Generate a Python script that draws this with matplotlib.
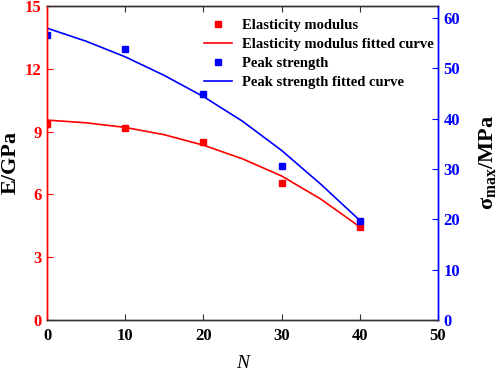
import matplotlib
matplotlib.use("Agg")
import matplotlib.pyplot as plt

plt.rcParams['font.family'] = ['Liberation Serif', 'DejaVu Serif']
plt.rcParams['mathtext.fontset'] = 'custom'
plt.rcParams['mathtext.rm'] = 'Liberation Serif'
plt.rcParams['mathtext.bf'] = 'Liberation Serif:bold'
plt.rcParams['mathtext.it'] = 'Liberation Serif:italic'

# Data
N = [0, 10, 20, 30, 40]
E_modulus = [9.36, 9.19, 8.50, 6.56, 4.43]
peak_strength = [56.7, 53.9, 44.9, 30.6, 19.7]

# Fitted curves
N_fit = [0, 5, 10, 15, 20, 25, 30, 35, 40]
E_fit = [9.55, 9.42, 9.20, 8.85, 8.35, 7.70, 6.88, 5.78, 4.45]
peak_fit = [58.0, 55.4, 52.3, 48.6, 44.4, 39.5, 33.7, 27.0, 19.8]

x_ticks = [0, 10, 20, 30, 40, 50]
left_ticks = [0, 3, 6, 9, 12, 15]
right_ticks = [0, 10, 20, 30, 40, 50, 60]

RED = '#ff0000'
BLUE = '#0000ff'
GREY = '#333333'

fig = plt.figure(figsize=(4.98, 3.71), dpi=100)
ax = fig.add_axes([47/498, 1-320/371, (438-47)/498, (320-6)/371])
ax2 = ax.twinx()

h1, = ax.plot(N, E_modulus, 's', color=RED, markersize=5, linestyle='none', label='Elasticity modulus')
h2, = ax.plot(N_fit, E_fit, '-', color=RED, lw=1.2, label='Elasticity modulus fitted curve')
h3, = ax2.plot(N, peak_strength, 's', color=BLUE, markersize=5, linestyle='none', label='Peak strength')
h4, = ax2.plot(N_fit, peak_fit, '-', color=BLUE, lw=1.2, label='Peak strength fitted curve')

ax.set_xlim(0, 50)
ax.set_ylim(0, 15)
ax2.set_ylim(0, 62.4)
ax.set_xticks(x_ticks)
ax.set_yticks(left_ticks)
ax2.set_yticks(right_ticks)

for a in (ax, ax2):
    a.spines['left'].set_color(RED)
    a.spines['right'].set_color(BLUE)
    a.spines['top'].set_color(GREY)
    a.spines['bottom'].set_color(GREY)
    for s in a.spines.values():
        s.set_linewidth(1.0)

ax.tick_params(axis='x', direction='in', length=4, color=GREY, top=True, labeltop=False,
               labelsize=12, pad=6)
ax.tick_params(axis='y', direction='in', length=4, color=RED, labelcolor=RED, labelsize=12, pad=4)
ax2.tick_params(axis='y', direction='in', length=4, color=BLUE, labelcolor=BLUE, labelsize=12, pad=4)
for lab in ax.get_xticklabels() + ax.get_yticklabels() + ax2.get_yticklabels():
    lab.set_fontweight('bold')

ax.set_xlabel('N', fontstyle='italic', fontsize=14, labelpad=8)
ax.set_ylabel('E/GPa', fontweight='bold', fontsize=16, labelpad=3)
ax2.set_ylabel(r'σ$_{\mathbf{max}}$/MPa', fontweight='bold', fontsize=16, labelpad=12)

leg = ax.legend(handles=[h1, h2, h3, h4], loc='upper left', frameon=False,
                bbox_to_anchor=(191/498, 1-6/371), bbox_transform=fig.transFigure,
                prop={'weight': 'bold', 'size': 10.5}, handlelength=1.9, handletextpad=0.7,
                labelspacing=0.4, borderpad=0.4, numpoints=1)

fig.savefig('out.png', dpi=100)
